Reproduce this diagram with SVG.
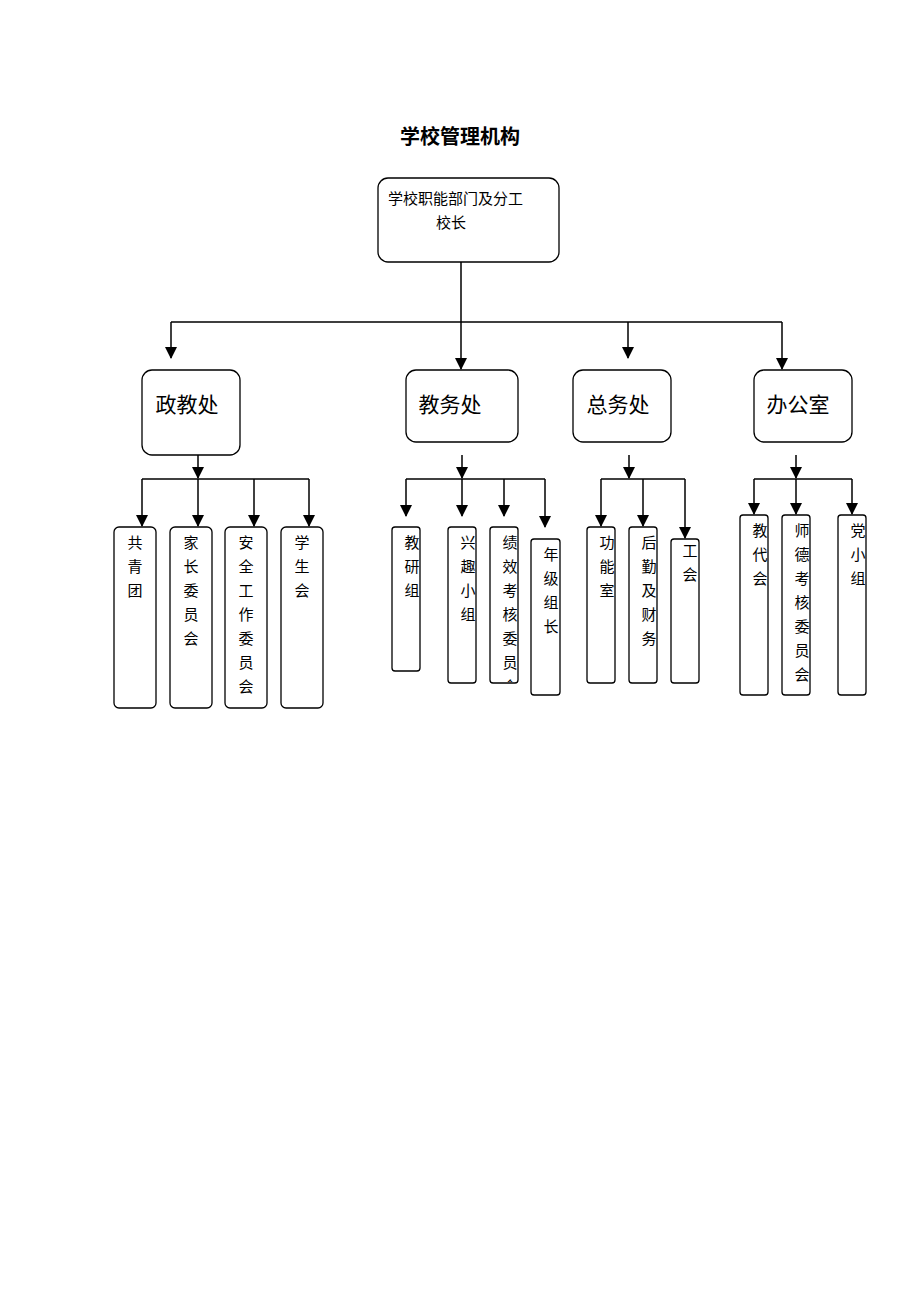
<svg xmlns="http://www.w3.org/2000/svg" width="920" height="1302" viewBox="0 0 920 1302">
<style>
.b{fill:#fff;stroke:#000;stroke-width:1.3}
.t{font-family:"Noto Sans CJK SC",sans-serif;fill:#000}
.s{font-size:15px;text-anchor:middle}
.l{stroke:#000;stroke-width:1.5;fill:none}
</style>
<defs>
<marker id="d" markerWidth="12" markerHeight="12" refX="6" refY="11" markerUnits="userSpaceOnUse" viewBox="0 0 12 12"><path d="M0,0 L12,0 L6,12Z" fill="#000"/></marker>
<clipPath id="c1"><rect x="490" y="527" width="28" height="155"/></clipPath>
</defs>
<text class="t" x="460" y="144" font-size="20" font-weight="bold" text-anchor="middle">学校管理机构</text>
<g id="connectors">
<path class="l" d="M461,262 V322 M171,322 H782"/>
<path class="l" d="M171,322 V358" marker-end="url(#d)"/>
<path class="l" d="M461,322 V369" marker-end="url(#d)"/>
<path class="l" d="M628,322 V358" marker-end="url(#d)"/>
<path class="l" d="M782,322 V369" marker-end="url(#d)"/>
<path class="l" d="M198,455 V478" marker-end="url(#d)"/>
<path class="l" d="M142,479 H309"/>
<path class="l" d="M142,479 V526" marker-end="url(#d)"/>
<path class="l" d="M198,479 V526" marker-end="url(#d)"/>
<path class="l" d="M254,479 V526" marker-end="url(#d)"/>
<path class="l" d="M309,479 V526" marker-end="url(#d)"/>
<path class="l" d="M462,455 V478" marker-end="url(#d)"/>
<path class="l" d="M406,479 H545"/>
<path class="l" d="M406,479 V516" marker-end="url(#d)"/>
<path class="l" d="M462,479 V516" marker-end="url(#d)"/>
<path class="l" d="M504,479 V516" marker-end="url(#d)"/>
<path class="l" d="M545,479 V527" marker-end="url(#d)"/>
<path class="l" d="M629,455 V478" marker-end="url(#d)"/>
<path class="l" d="M601,479 H685"/>
<path class="l" d="M601,479 V526" marker-end="url(#d)"/>
<path class="l" d="M643,479 V526" marker-end="url(#d)"/>
<path class="l" d="M685,479 V538" marker-end="url(#d)"/>
<path class="l" d="M796,455 V478" marker-end="url(#d)"/>
<path class="l" d="M754,479 H852"/>
<path class="l" d="M754,479 V514" marker-end="url(#d)"/>
<path class="l" d="M796,479 V514" marker-end="url(#d)"/>
<path class="l" d="M852,479 V514" marker-end="url(#d)"/>
</g>
<g id="root"><rect class="b" x="378" y="178" width="181" height="84" rx="10"/>
<text class="t" x="388" y="204" font-size="15">学校职能部门及分工</text>
<text class="t" x="436" y="228" font-size="15">校长</text></g>
<g id="zjc"><rect class="b" x="142" y="370" width="98" height="85" rx="10"/><text class="t" x="187" y="412" font-size="21" text-anchor="middle">政教处</text></g>
<g id="jwc"><rect class="b" x="406" y="370" width="112" height="72" rx="10"/><text class="t" x="450" y="412" font-size="21" text-anchor="middle">教务处</text></g>
<g id="zwc"><rect class="b" x="573" y="370" width="98" height="72" rx="10"/><text class="t" x="618" y="412" font-size="21" text-anchor="middle">总务处</text></g>
<g id="bgs"><rect class="b" x="754" y="370" width="98" height="72" rx="10"/><text class="t" x="798" y="412" font-size="21" text-anchor="middle">办公室</text></g>

<g id="gqt"><rect class="b" x="114" y="527" width="42" height="181" rx="5"/><text class="t s"><tspan x="135" y="548">共</tspan><tspan x="135" y="572">青</tspan><tspan x="135" y="596">团</tspan></text></g>
<g id="jzwyh"><rect class="b" x="170" y="527" width="42" height="181" rx="5"/><text class="t s"><tspan x="191" y="548">家</tspan><tspan x="191" y="572">长</tspan><tspan x="191" y="596">委</tspan><tspan x="191" y="620">员</tspan><tspan x="191" y="644">会</tspan></text></g>
<g id="aq"><rect class="b" x="225" y="527" width="42" height="181" rx="5"/><text class="t s"><tspan x="246" y="548">安</tspan><tspan x="246" y="572">全</tspan><tspan x="246" y="596">工</tspan><tspan x="246" y="620">作</tspan><tspan x="246" y="644">委</tspan><tspan x="246" y="668">员</tspan><tspan x="246" y="692">会</tspan></text></g>
<g id="xsh"><rect class="b" x="281" y="527" width="42" height="181" rx="5"/><text class="t s"><tspan x="302" y="548">学</tspan><tspan x="302" y="572">生</tspan><tspan x="302" y="596">会</tspan></text></g>

<g id="jyz"><rect class="b" x="392" y="527" width="28" height="144" rx="3"/><text class="t s"><tspan x="412" y="548">教</tspan><tspan x="412" y="572">研</tspan><tspan x="412" y="596">组</tspan></text></g>
<g id="xqxz"><rect class="b" x="448" y="527" width="28" height="156" rx="3"/><text class="t s"><tspan x="468" y="548">兴</tspan><tspan x="468" y="572">趣</tspan><tspan x="468" y="596">小</tspan><tspan x="468" y="620">组</tspan></text></g>
<g id="jx"><rect class="b" x="490" y="527" width="28" height="156" rx="3"/><text class="t s" clip-path="url(#c1)"><tspan x="510" y="548">绩</tspan><tspan x="510" y="572">效</tspan><tspan x="510" y="596">考</tspan><tspan x="510" y="620">核</tspan><tspan x="510" y="644">委</tspan><tspan x="510" y="668">员</tspan><tspan x="510" y="692">会</tspan></text></g>
<g id="njzz"><rect class="b" x="531" y="539" width="29" height="156" rx="3"/><text class="t s"><tspan x="551" y="560">年</tspan><tspan x="551" y="584">级</tspan><tspan x="551" y="608">组</tspan><tspan x="551" y="632">长</tspan></text></g>

<g id="gns"><rect class="b" x="587" y="527" width="28" height="156" rx="3"/><text class="t s"><tspan x="607" y="548">功</tspan><tspan x="607" y="572">能</tspan><tspan x="607" y="596">室</tspan></text></g>
<g id="hq"><rect class="b" x="629" y="527" width="28" height="156" rx="3"/><text class="t s"><tspan x="649" y="548">后</tspan><tspan x="649" y="572">勤</tspan><tspan x="649" y="596">及</tspan><tspan x="649" y="620">财</tspan><tspan x="649" y="644">务</tspan></text></g>
<g id="gh"><rect class="b" x="671" y="539" width="28" height="144" rx="3"/><text class="t s"><tspan x="690" y="556">工</tspan><tspan x="690" y="580">会</tspan></text></g>

<g id="jdh"><rect class="b" x="740" y="515" width="28" height="180" rx="3"/><text class="t s"><tspan x="760" y="536">教</tspan><tspan x="760" y="560">代</tspan><tspan x="760" y="584">会</tspan></text></g>
<g id="sd"><rect class="b" x="782" y="515" width="28" height="180" rx="3"/><text class="t s"><tspan x="802" y="536">师</tspan><tspan x="802" y="560">德</tspan><tspan x="802" y="584">考</tspan><tspan x="802" y="608">核</tspan><tspan x="802" y="632">委</tspan><tspan x="802" y="656">员</tspan><tspan x="802" y="680">会</tspan></text></g>
<g id="dxz"><rect class="b" x="838" y="515" width="28" height="180" rx="3"/><text class="t s"><tspan x="858" y="536">党</tspan><tspan x="858" y="560">小</tspan><tspan x="858" y="584">组</tspan></text></g>
</svg>
